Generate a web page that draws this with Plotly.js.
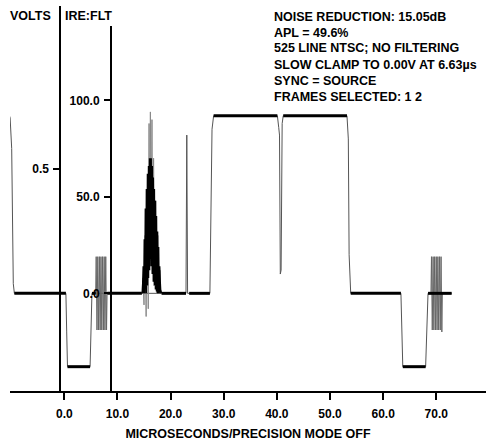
<!DOCTYPE html>
<html>
<head>
<meta charset="utf-8">
<script src="https://cdn.plot.ly/plotly-3.0.1.min.js"></script>
<style>html,body{margin:0;padding:0;background:#fff;}#chart{width:486px;height:441px;}</style>
</head>
<body>
<div id="chart"></div>
<script>
// ---- data (microseconds, IRE) ----
var mainX = [-10.6, -10.2, -9.9, -9.75, -9.6, -9.4, 0.3, 0.45, 0.6, 4.85, 5.0, 5.2, 14.6, 18.4, 22.9, 23.05, 23.2, 27.4, 27.6, 27.8, 28.1, 40.1, 40.35, 40.5, 40.65, 40.8, 41.0, 41.2, 53.2, 53.45, 53.6, 53.9, 63.35, 63.5, 63.7, 68.0, 68.25, 68.45, 72.9];
var mainY = [94, 91, 75, 30, 5, 0, 0, -20, -38, -38, -20, 0, 0, 0, 0, 82, 0, 0, 40, 85, 92, 92, 86, 82, 10, 12, 88, 92, 92, 80, 20, 0, 0, -25, -38, -38, -20, 0, 0];

var flatStart = [-9.4, 0.6, 5.2, 8.1, 18.3, 23.5, 28.1, 41.2, 53.9, 63.7, 68.45];
var flatEnd   = [0.3, 4.85, 5.9, 14.6, 22.9, 27.4, 40.1, 53.2, 63.35, 68.0, 72.9];
var flatLevel = [0, -38, 0, 0, 0, 0, 92, 92, 0, -38, 0];

var burst1X = [5.9, 6.0, 6.15, 6.3, 6.45, 6.6, 6.75, 6.9, 7.05, 7.2, 7.35, 7.5, 7.65, 7.8, 7.95, 8.05];
var burst1Y = [0, 19, -19, 19, -19, 19, -19, 19, -19, 19, -19, 19, -19, 19, -19, 0];
var burst2X = [69.0, 69.1, 69.25, 69.4, 69.55, 69.7, 69.85, 70.0, 70.15, 70.3, 70.45, 70.6, 70.75, 70.9, 71.05, 71.15];
var burst2Y = [0, 19, -19, 19, -19, 19, -19, 19, -19, 19, -19, 19, -19, 19, -20, 0];

var pulseGrayX = [14.6, 14.8, 15.0, 15.2, 15.4, 15.6, 15.8, 15.95, 16.05, 16.2, 16.35, 16.5, 16.65, 16.8, 17.0, 17.2, 17.4, 17.6, 17.8, 18.0, 18.2, 18.4];
var pulseGrayY = [0, 8, -6, 30, -12, 52, -8, 88, 20, 94, 30, 90, 15, 70, 5, 48, 0, 30, 0, 12, 0, 0];
var pulseBlackX = [14.75, 14.9, 15.0, 15.1, 15.2, 15.3, 15.4, 15.5, 15.6, 15.7, 15.8, 15.9, 16.0, 16.1, 16.2, 16.3, 16.4, 16.5, 16.6, 16.7, 16.8, 16.9, 17.0, 17.1, 17.2, 17.3, 17.4, 17.5, 17.6, 17.7, 17.8, 17.9, 18.05, 18.25];
var pulseBlackY = [0, 14, 0, 28, 2, 44, 0, 54, 4, 62, 8, 66, 12, 70, 18, 70, 14, 66, 10, 60, 6, 54, 4, 48, 2, 40, 1, 32, 0, 24, 0, 14, 2, 0];

var xTickVals = [0, 10, 20, 30, 40, 50, 60, 70];
var xTickText = ['0.0', '10.0', '20.0', '30.0', '40.0', '50.0', '60.0', '70.0'];
var ireTickVals = [0, 50, 100];
var ireTickText = ['0.0', '50.0', '100.0'];
var voltTickVals = [0.5];
var voltTickText = ['0.5'];

var infoLines = ['NOISE REDUCTION: 15.05dB', 'APL = 49.6%', '525 LINE NTSC; NO FILTERING', 'SLOW CLAMP TO 0.00V AT 6.63\u00b5s', 'SYNC = SOURCE', 'FRAMES SELECTED: 1 2'];

// ---- build ----
var flatX = [], flatY = [];
for (var i = 0; i < flatStart.length; i++) {
  flatX.push(flatStart[i], flatEnd[i], null);
  flatY.push(flatLevel[i], flatLevel[i], null);
}

var FONT = 'Liberation Sans, Arial, sans-serif';
var traces = [
  {x: mainX, y: mainY, mode: 'lines', line: {color: '#555', width: 1}, hoverinfo: 'skip', showlegend: false},
  {x: burst1X, y: burst1Y, mode: 'lines', line: {color: '#666', width: 1}, hoverinfo: 'skip', showlegend: false},
  {x: burst2X, y: burst2Y, mode: 'lines', line: {color: '#666', width: 1}, hoverinfo: 'skip', showlegend: false},
  {x: pulseGrayX, y: pulseGrayY, mode: 'lines', line: {color: '#888', width: 1}, hoverinfo: 'skip', showlegend: false},
  {x: pulseBlackX, y: pulseBlackY, mode: 'lines', line: {color: '#000', width: 2}, hoverinfo: 'skip', showlegend: false},
  {x: flatX, y: flatY, mode: 'lines', line: {color: '#000', width: 3}, connectgaps: false, hoverinfo: 'skip', showlegend: false},
  {x: [null], y: [null], yaxis: 'y2', mode: 'lines', hoverinfo: 'skip', showlegend: false}
];

var tickFont = {family: FONT, size: 12, color: '#000', weight: 'bold'};
var annots = [];
var lineY = [0.9722, 0.9306, 0.8901, 0.8468, 0.8052, 0.7644];
for (var j = 0; j < infoLines.length; j++) {
  annots.push({text: infoLines[j], xref: 'paper', yref: 'paper', x: 0.5504, y: lineY[j], xanchor: 'left', yanchor: 'middle', showarrow: false, font: {family: FONT, size: 12.5, color: '#000', weight: 'bold'}});
}
annots.push({text: 'VOLTS', xref: 'paper', yref: 'paper', x: 0.0441, y: 0.974, xanchor: 'center', yanchor: 'middle', showarrow: false, font: {family: FONT, size: 12.5, color: '#000', weight: 'bold'}});
annots.push({text: 'IRE:FLT', xref: 'paper', yref: 'paper', x: 0.1639, y: 0.974, xanchor: 'center', yanchor: 'middle', showarrow: false, font: {family: FONT, size: 12.5, color: '#000', weight: 'bold'}});

var layout = {
  width: 486, height: 441,
  margin: {l: 10, r: 0, t: 6, b: 50},
  paper_bgcolor: '#fff', plot_bgcolor: 'rgba(0,0,0,0)',
  showlegend: false,
  xaxis: {
    range: [-10.22, 79.36], anchor: 'y',
    tickvals: xTickVals, ticktext: xTickText,
    ticks: 'outside', ticklen: 7, tickwidth: 2, tickcolor: '#000', ticklabelstandoff: 4,
    showline: true, linewidth: 2, linecolor: '#000',
    showgrid: false, zeroline: false, tickfont: tickFont,
    title: {text: 'MICROSECONDS/PRECISION MODE OFF', font: {family: FONT, size: 12.5, color: '#000', weight: 'bold'}, standoff: 9}
  },
  yaxis: {
    domain: [0, 0.948], range: [-50.6, 138.5],
    anchor: 'free', position: 0.2122,
    tickvals: ireTickVals, ticktext: ireTickText,
    ticks: 'outside', ticklen: 6, tickwidth: 2, tickcolor: '#000', ticklabelstandoff: 2,
    showline: true, linewidth: 2, linecolor: '#000',
    showgrid: false, zeroline: false, tickfont: tickFont
  },
  yaxis2: {
    domain: [0, 1], range: [-0.3, 1.087],
    anchor: 'free', position: 0.1057,
    tickvals: voltTickVals, ticktext: voltTickText,
    ticks: 'outside', ticklen: 6, tickwidth: 2, tickcolor: '#000', ticklabelstandoff: 2,
    showline: true, linewidth: 2, linecolor: '#000',
    showgrid: false, zeroline: false, tickfont: tickFont
  },
  annotations: annots
};

Plotly.newPlot('chart', traces, layout, {displayModeBar: false, staticPlot: true});
</script>
</body>
</html>
